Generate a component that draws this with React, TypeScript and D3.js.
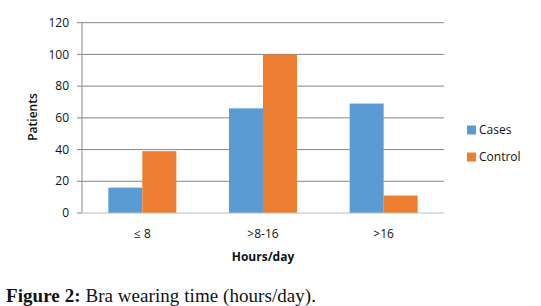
import React from "react";
import * as d3 from "d3";

const categories = ["≤ 8", ">8-16", ">16"];
const seriesNames = ["Cases", "Control"];
const casesValues = [16, 66, 69];
const controlValues = [39, 100, 11];
const yTicks = [0, 20, 40, 60, 80, 100, 120];
const colors = ["#5B9BD5", "#ED7D31"];

const W = 541;
const H = 306;
const M = { left: 82, right: 444, top: 22.7, bottom: 213 };
const labelFont = "'Open Sans', 'Noto Sans', sans-serif";

export default function App() {
  const x = d3.scaleBand<string>().domain(categories).range([M.left, M.right]).paddingInner(0).paddingOuter(0);
  const inner = d3.scaleBand<string>().domain(seriesNames).range([0, x.bandwidth()]).paddingInner(0).paddingOuter(0.775);
  const y = d3.scaleLinear().domain([0, 120]).range([M.bottom, M.top]);
  const series = [casesValues, controlValues];

  return (
    <svg width={W} height={H} style={{ position: "absolute", left: 0, top: 0, background: "#fff" }}>
      <rect x={0} y={0} width={W} height={H} fill="#fff" />
      {yTicks.map((t) => (
        <g key={t}>
          {t > 0 && <line x1={M.left} x2={M.right} y1={y(t)} y2={y(t)} stroke="#878787" strokeWidth={1} />}
          <line x1={M.left - 5} x2={M.left} y1={y(t)} y2={y(t)} stroke="#878787" strokeWidth={1} />
          <text x={69} y={y(t)} dy="0.35em" textAnchor="end" fontFamily={labelFont} fontSize={12} fill="#111">
            {t}
          </text>
        </g>
      ))}
      <line x1={M.left} x2={M.left} y1={M.top} y2={M.bottom} stroke="#878787" strokeWidth={1} />
      {categories.map((c, i) =>
        seriesNames.map((s, j) => (
          <rect
            key={c + s}
            x={(x(c) as number) + (inner(s) as number)}
            y={y(series[j][i])}
            width={inner.bandwidth()}
            height={y(0) - y(series[j][i])}
            fill={colors[j]}
          />
        ))
      )}
      <line x1={M.left - 5} x2={M.right} y1={M.bottom} y2={M.bottom} stroke="#BDBDBD" strokeWidth={1} />
      {categories.map((c) => (
        <text key={c} x={(x(c) as number) + x.bandwidth() / 2} y={233.5} dy="0.35em" textAnchor="middle" fontFamily={labelFont} fontSize={12} fill="#111">
          {c}
        </text>
      ))}
      <text x={(M.left + M.right) / 2} y={256.5} dy="0.35em" textAnchor="middle" fontFamily={labelFont} fontSize={12} fontWeight={700} fill="#111">
        Hours/day
      </text>
      <text transform={`translate(33,117) rotate(-90)`} dy="0.35em" textAnchor="middle" fontFamily={labelFont} fontSize={12} fontWeight={600} fill="#111">
        Patients
      </text>
      {seriesNames.map((s, j) => (
        <g key={s} transform={`translate(467,${130 + j * 27})`}>
          <rect x={0} y={-4.5} width={9} height={9} fill={colors[j]} />
          <text x={12} y={0} dy="0.35em" fontFamily={labelFont} fontSize={12} fill="#111">
            {s}
          </text>
        </g>
      ))}
      <text x={6} y={302} fontFamily="'Liberation Serif', 'DejaVu Serif', serif" fontSize={19} fill="#111" textLength={310} lengthAdjust="spacing">
        <tspan fontWeight={700}>Figure 2:</tspan>
        <tspan> Bra wearing time (hours/day).</tspan>
      </text>
    </svg>
  );
}
